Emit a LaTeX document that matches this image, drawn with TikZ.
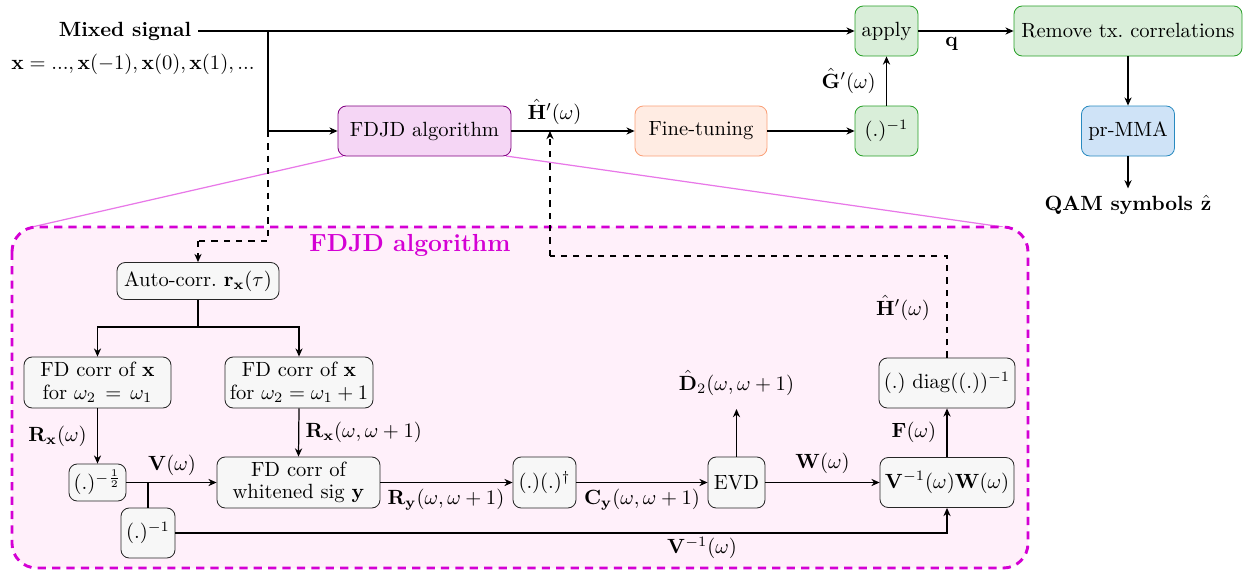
\documentclass[tikz,border=0pt]{standalone}
\usepackage{amsmath,amssymb,bm}
\usetikzlibrary{arrows.meta,positioning,calc}

\definecolor{fdjdfill}{RGB}{245,214,245}
\definecolor{fdjddraw}{RGB}{128,0,128}
\definecolor{tunefill}{RGB}{255,236,227}
\definecolor{tunedraw}{RGB}{250,160,120}
\definecolor{grnfill}{RGB}{217,238,217}
\definecolor{grndraw}{RGB}{40,160,40}
\definecolor{bluefill}{RGB}{207,227,247}
\definecolor{bluedraw}{RGB}{40,138,192}
\definecolor{zoomfill}{RGB}{255,240,250}
\definecolor{zoomdraw}{RGB}{212,0,212}
\definecolor{zoomline}{RGB}{232,120,232}
\definecolor{inner}{RGB}{247,247,247}

\tikzset{
  blk/.style={rounded corners=4pt, align=center, inner sep=0pt, font=\normalsize},
  fdjdbox/.style={blk, fill=fdjdfill, draw=fdjddraw},
  tunebox/.style={blk, fill=tunefill, draw=tunedraw},
  grnbox/.style={blk, fill=grnfill, draw=grndraw},
  bluebox/.style={blk, fill=bluefill, draw=bluedraw},
  inbox/.style={blk, fill=inner, draw=black!85},
  arr/.style={-{Stealth[length=4pt,width=3.5pt]}, semithick},
  ln/.style={semithick},
  dsh/.style={semithick, dashed},
  lbl/.style={inner sep=1pt}
}

\begin{document}
\begin{tikzpicture}[x=0.486pt,y=-0.486pt]
\useasboundingbox (0,0) rectangle (1248,572);

% ---- enlarged view of the FDJD stage ----
\draw[zoomline, line width=0.6pt] (343,156) -- (32,227);
\draw[zoomline, line width=0.6pt] (506,156) -- (1003,227);
\draw[zoomdraw, fill=zoomfill, line width=1.4pt, dash pattern=on 4pt off 3pt, rounded corners=12pt]
  (12,227) rectangle (1028,568);
\node[text=zoomdraw, font=\large\bfseries] (title) at (410,245) {FDJD algorithm};

% ---- upper chain ----
\node[font=\bfseries] (mix) at (125,31) {Mixed signal};
\node (xseq) at (133,64) {$\mathbf{x} = ..., \mathbf{x}(-1), \mathbf{x}(0), \mathbf{x}(1), ...$};

\node[fdjdbox, minimum width=173*0.486pt, minimum height=50*0.486pt] (fdjd) at (424.5,131) {FDJD algorithm};
\node[tunebox, minimum width=132*0.486pt, minimum height=50*0.486pt] (tune) at (701,131) {Fine-tuning};
\node[grnbox, minimum width=63*0.486pt, minimum height=50*0.486pt] (inv) at (886.5,131) {$(.)^{-1}$};
\node[grnbox, minimum width=63*0.486pt, minimum height=50*0.486pt] (apply) at (886.5,31) {apply};
\node[grnbox, minimum width=228*0.486pt, minimum height=50*0.486pt] (rem) at (1128,31) {Remove tx.\ correlations};
\node[bluebox, minimum width=93*0.486pt, minimum height=50*0.486pt] (mma) at (1128,131) {pr-MMA};
\node[font=\bfseries] (qam) at (1128,205) {QAM symbols $\hat{\mathbf{z}}$};

\coordinate (split) at (268,31);
\coordinate (branch) at (268,131);
\draw[ln] (198,31) -- (split);
\draw[arr] (split) -- (apply.west);
\draw[ln] (split) -- (branch);
\draw[arr] (branch) -- (fdjd.west);
\draw[arr] (fdjd.east) -- node[above, lbl, pos=0.35, yshift=2pt] {$\hat{\mathbf{H}}'(\omega)$} (tune.west);
\draw[arr] (tune.east) -- (inv.west);
\draw[arr] (inv.north) -- node[left, lbl, xshift=-4pt] {$\hat{\mathbf{G}}'(\omega)$} (apply.south);
\draw[arr] (apply.east) -- node[below, lbl, pos=0.35, yshift=-2pt] {$\mathbf{q}$} (rem.west);
\draw[arr] (rem.south) -- (mma.north);
\draw[arr] (mma.south) -- (qam.north);

% ---- inner blocks ----
\node[inbox, minimum width=162*0.486pt, minimum height=37*0.486pt] (ac) at (198,281) {Auto-corr.\ $\mathbf{r}_{\mathbf{x}}(\tau)$};
\node[inbox, minimum width=147*0.486pt, minimum height=51*0.486pt] (fd1) at (97.5,382.5) {FD corr of $\mathbf{x}$\\[-1pt] for $\omega_2\, =\, \omega_1$};
\node[inbox, minimum width=148*0.486pt, minimum height=51*0.486pt] (fd2) at (299,382.5) {FD corr of $\mathbf{x}$\\[-1pt] for $\omega_2 = \omega_1 + 1$};
\node[inbox, minimum width=57*0.486pt, minimum height=37*0.486pt] (sqrt) at (97.5,482.5) {$(.)^{-\frac{1}{2}}$};
\node[inbox, minimum width=54*0.486pt, minimum height=50*0.486pt] (vinv) at (148,533) {$(.)^{-1}$};
\node[inbox, minimum width=163*0.486pt, minimum height=51*0.486pt] (fdy) at (298.5,482.5) {FD corr of\\[-1pt] whitened sig $\mathbf{y}$};
\node[inbox, minimum width=63*0.486pt, minimum height=51*0.486pt] (herm) at (544.5,482.5) {$(.)(.)^{\dagger}$};
\node[inbox, minimum width=57*0.486pt, minimum height=51*0.486pt] (evd) at (736.5,482.5) {EVD};
\node[inbox, minimum width=134*0.486pt, minimum height=50*0.486pt] (vw) at (947,482.5) {$\mathbf{V}^{-1}(\omega)\mathbf{W}(\omega)$};
\node[inbox, minimum width=136*0.486pt, minimum height=50*0.486pt] (diag) at (947,383) {$(.)\ \mathrm{diag}((.))^{-1}$};
\node (d2) at (736.5,383) {$\hat{\mathbf{D}}_2(\omega,\omega+1)$};

% dashed feed into the inner view and back out
\coordinate (dturn1) at (268,241);
\coordinate (dturn2) at (198,241);
\draw[dsh] (branch) -- (dturn1) -- (dturn2);
\draw[dsh, -{Stealth[length=4pt,width=3.5pt]}] (dturn2) -- (ac.north);
\coordinate (hturn1) at (947,256);
\coordinate (hturn2) at (550,256);
\coordinate (hend) at (550,131);
\draw[dsh] (diag.north) -- (hturn1) -- (hturn2);
\draw[dsh, -{Stealth[length=4pt,width=3.5pt]}] (hturn2) -- (hend);
\node[lbl] (hlab) at (903,308) {$\hat{\mathbf{H}}'(\omega)$};

% inner connectors
\coordinate (tree) at (198,327);
\coordinate (d2end) at (736.5,409);
\draw[ln] (ac.south) -- (tree);
\draw[arr] (tree) -| (fd1.north);
\draw[arr] (tree) -| (fd2.north);
\draw[arr] (fd1.south) -- node[left, lbl, xshift=-4pt] {$\mathbf{R}_{\mathbf{x}}(\omega)$} (sqrt.north);
\draw[arr] (fd2.south) -- node[right, lbl, xshift=2pt] {$\mathbf{R}_{\mathbf{x}}(\omega,\omega+1)$} (fdy.north);
\coordinate (vsplit) at (148,482.5);
\draw[arr] (sqrt.east) -- (fdy.west);
\node[lbl] (vlab) at (172,465) {$\mathbf{V}(\omega)$};
\draw[ln] (vsplit) -- (vinv.north);
\draw[arr] (fdy.east) -- (herm.west);
\node[lbl] (rylab) at (446,500) {$\mathbf{R}_{\mathbf{y}}(\omega,\omega+1)$};
\draw[arr] (herm.east) -- (evd.west);
\node[lbl] (cylab) at (642,500) {$\mathbf{C}_{\mathbf{y}}(\omega,\omega+1)$};
\draw[arr] (evd.north) -- (d2end);
\draw[arr] (evd.east) -- node[above, lbl, yshift=3pt] {$\mathbf{W}(\omega)$} (vw.west);
\draw[arr] (vinv.east) -| (vw.south);
\node[lbl] (vilab) at (702,548) {$\mathbf{V}^{-1}(\omega)$};
\draw[arr] (vw.north) -- node[left, lbl, xshift=-4pt] {$\mathbf{F}(\omega)$} (diag.south);
\end{tikzpicture}
\end{document}
